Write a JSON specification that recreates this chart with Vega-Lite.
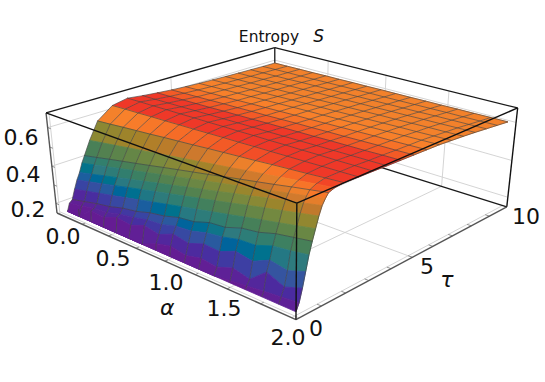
{"$schema":"https://vega.github.io/schema/vega-lite/v6.json","width":545,"height":382,"autosize":{"type":"fit","contains":"padding"},"padding":0,"background":"white","view":{"stroke":null},
"datasets":{
"frame":[
{"alpha":0,"tau":0,"S":0.2,"alpha2":0,"tau2":10,"S2":0.2,"kind":"grid"},{"alpha":0,"tau":0,"S":0.4,"alpha2":0,"tau2":10,"S2":0.4,"kind":"grid"},{"alpha":0,"tau":0,"S":0.6,"alpha2":0,"tau2":10,"S2":0.6,"kind":"grid"},
{"alpha":0,"tau":10,"S":0.2,"alpha2":2,"tau2":10,"S2":0.2,"kind":"grid"},{"alpha":0,"tau":10,"S":0.4,"alpha2":2,"tau2":10,"S2":0.4,"kind":"grid"},{"alpha":0,"tau":10,"S":0.6,"alpha2":2,"tau2":10,"S2":0.6,"kind":"grid"},
{"alpha":0,"tau":5,"S":0.147,"alpha2":0,"tau2":5,"S2":0.674,"kind":"grid"},{"alpha":0,"tau":5,"S":0.147,"alpha2":2,"tau2":5,"S2":0.147,"kind":"grid"},
{"alpha":0.5,"tau":10,"S":0.147,"alpha2":0.5,"tau2":10,"S2":0.674,"kind":"grid"},{"alpha":1,"tau":10,"S":0.147,"alpha2":1,"tau2":10,"S2":0.674,"kind":"grid"},{"alpha":1.5,"tau":10,"S":0.147,"alpha2":1.5,"tau2":10,"S2":0.674,"kind":"grid"},
{"alpha":0.5,"tau":0,"S":0.147,"alpha2":0.5,"tau2":10,"S2":0.147,"kind":"grid"},{"alpha":1,"tau":0,"S":0.147,"alpha2":1,"tau2":10,"S2":0.147,"kind":"grid"},{"alpha":1.5,"tau":0,"S":0.147,"alpha2":1.5,"tau2":10,"S2":0.147,"kind":"grid"},
{"alpha":0,"tau":0.12,"S":0.147,"alpha2":2,"tau2":0.12,"S2":0.147,"kind":"grid"},{"alpha":1.97,"tau":0,"S":0.147,"alpha2":1.97,"tau2":10,"S2":0.147,"kind":"grid"},{"alpha":0.03,"tau":0,"S":0.147,"alpha2":0.03,"tau2":0,"S2":0.674,"kind":"grid"},
{"alpha":0,"tau":0,"S":0.674,"alpha2":0,"tau2":10,"S2":0.674,"kind":"back"},{"alpha":0,"tau":10,"S":0.674,"alpha2":2,"tau2":10,"S2":0.674,"kind":"back"},{"alpha":0,"tau":10,"S":0.147,"alpha2":0,"tau2":10,"S2":0.674,"kind":"back"},{"alpha":0,"tau":10,"S":0.147,"alpha2":2,"tau2":10,"S2":0.147,"kind":"back"},
{"alpha":0,"tau":0,"S":0.674,"alpha2":2,"tau2":0,"S2":0.674,"kind":"front"},{"alpha":2,"tau":0,"S":0.674,"alpha2":2,"tau2":10,"S2":0.674,"kind":"front"},{"alpha":2,"tau":0,"S":0.147,"alpha2":2,"tau2":0,"S2":0.674,"kind":"front"},{"alpha":2,"tau":10,"S":0.147,"alpha2":2,"tau2":10,"S2":0.674,"kind":"front"},
{"alpha":0,"tau":0,"S":0.147,"alpha2":2,"tau2":0,"S2":0.147,"kind":"axis"},{"alpha":2,"tau":0,"S":0.147,"alpha2":2,"tau2":10,"S2":0.147,"kind":"axis"},{"alpha":0,"tau":0,"S":0.147,"alpha2":0,"tau2":0,"S2":0.674,"kind":"axis"},
{"alpha":0.25,"tau":0,"S":0.147,"alpha2":0.25,"tau2":0.12,"S2":0.147,"kind":"tick"},{"alpha":0.5,"tau":0,"S":0.147,"alpha2":0.5,"tau2":0.12,"S2":0.147,"kind":"tick"},{"alpha":0.75,"tau":0,"S":0.147,"alpha2":0.75,"tau2":0.12,"S2":0.147,"kind":"tick"},{"alpha":1,"tau":0,"S":0.147,"alpha2":1,"tau2":0.12,"S2":0.147,"kind":"tick"},{"alpha":1.25,"tau":0,"S":0.147,"alpha2":1.25,"tau2":0.12,"S2":0.147,"kind":"tick"},{"alpha":1.5,"tau":0,"S":0.147,"alpha2":1.5,"tau2":0.12,"S2":0.147,"kind":"tick"},{"alpha":1.75,"tau":0,"S":0.147,"alpha2":1.75,"tau2":0.12,"S2":0.147,"kind":"tick"},
{"alpha":2,"tau":1,"S":0.147,"alpha2":1.97,"tau2":1,"S2":0.147,"kind":"tick"},{"alpha":2,"tau":2,"S":0.147,"alpha2":1.97,"tau2":2,"S2":0.147,"kind":"tick"},{"alpha":2,"tau":3,"S":0.147,"alpha2":1.97,"tau2":3,"S2":0.147,"kind":"tick"},{"alpha":2,"tau":4,"S":0.147,"alpha2":1.97,"tau2":4,"S2":0.147,"kind":"tick"},{"alpha":2,"tau":5,"S":0.147,"alpha2":1.97,"tau2":5,"S2":0.147,"kind":"tick"},{"alpha":2,"tau":6,"S":0.147,"alpha2":1.97,"tau2":6,"S2":0.147,"kind":"tick"},{"alpha":2,"tau":7,"S":0.147,"alpha2":1.97,"tau2":7,"S2":0.147,"kind":"tick"},{"alpha":2,"tau":8,"S":0.147,"alpha2":1.97,"tau2":8,"S2":0.147,"kind":"tick"},{"alpha":2,"tau":9,"S":0.147,"alpha2":1.97,"tau2":9,"S2":0.147,"kind":"tick"},
{"alpha":0,"tau":0,"S":0.2,"alpha2":0.03,"tau2":0,"S2":0.2,"kind":"tick"},{"alpha":0,"tau":0,"S":0.3,"alpha2":0.03,"tau2":0,"S2":0.3,"kind":"tick"},{"alpha":0,"tau":0,"S":0.4,"alpha2":0.03,"tau2":0,"S2":0.4,"kind":"tick"},{"alpha":0,"tau":0,"S":0.5,"alpha2":0.03,"tau2":0,"S2":0.5,"kind":"tick"},{"alpha":0,"tau":0,"S":0.6,"alpha2":0.03,"tau2":0,"S2":0.6,"kind":"tick"}
],
"labels":[
{"label":"0.6","alpha":-0.296,"tau":0,"S":0.488,"role":"tick"},{"label":"0.4","alpha":-0.324,"tau":0,"S":0.282,"role":"tick"},{"label":"0.2","alpha":-0.317,"tau":0,"S":0.087,"role":"tick"},
{"label":"0.0","alpha":0,"tau":0.127,"S":0.006,"role":"tick"},{"label":"0.5","alpha":0.5,"tau":0.097,"S":0.016,"role":"tick"},{"label":"1.0","alpha":1,"tau":-0.007,"S":0.033,"role":"tick"},{"label":"1.5","alpha":1.5,"tau":-0.136,"S":0.055,"role":"tick"},{"label":"2.0","alpha":2,"tau":-0.304,"S":0.08,"role":"tick"},
{"label":"0","alpha":2,"tau":0.8,"S":0.047,"role":"tick"},{"label":"5","alpha":2,"tau":5.78,"S":0.05,"role":"tick"},{"label":"10","alpha":2,"tau":11.31,"S":0.021,"role":"tick"},
{"label":"α","alpha":1,"tau":-0.017,"S":-0.098,"role":"name"},{"label":"τ","alpha":2,"tau":6.9,"S":-0.089,"role":"name"},
{"label":"Entropy","alpha":0,"tau":9.7,"S":0.745,"role":"title"},{"label":"S","alpha":0,"tau":12.4,"S":0.66,"role":"titleS"}
],
"surface":[
{"alpha":0,"tau":10,"S":0.583},{"alpha":0.125,"tau":10,"S":0.585},{"alpha":0.25,"tau":10,"S":0.588},{"alpha":0.375,"tau":10,"S":0.59},{"alpha":0.5,"tau":10,"S":0.593},{"alpha":0.625,"tau":10,"S":0.595},{"alpha":0.75,"tau":10,"S":0.598},{"alpha":0.875,"tau":10,"S":0.6},{"alpha":1,"tau":10,"S":0.603},{"alpha":1.125,"tau":10,"S":0.605},{"alpha":1.25,"tau":10,"S":0.607},{"alpha":1.375,"tau":10,"S":0.61},{"alpha":1.5,"tau":10,"S":0.612},{"alpha":1.625,"tau":10,"S":0.615},{"alpha":1.75,"tau":10,"S":0.617},{"alpha":1.875,"tau":10,"S":0.62},{"alpha":2,"tau":10,"S":0.622},
{"alpha":0,"tau":9.375,"S":0.584},{"alpha":0.125,"tau":9.375,"S":0.587},{"alpha":0.25,"tau":9.375,"S":0.59},{"alpha":0.375,"tau":9.375,"S":0.592},{"alpha":0.5,"tau":9.375,"S":0.595},{"alpha":0.625,"tau":9.375,"S":0.598},{"alpha":0.75,"tau":9.375,"S":0.601},{"alpha":0.875,"tau":9.375,"S":0.604},{"alpha":1,"tau":9.375,"S":0.607},{"alpha":1.125,"tau":9.375,"S":0.609},{"alpha":1.25,"tau":9.375,"S":0.612},{"alpha":1.375,"tau":9.375,"S":0.615},{"alpha":1.5,"tau":9.375,"S":0.618},{"alpha":1.625,"tau":9.375,"S":0.621},{"alpha":1.75,"tau":9.375,"S":0.623},{"alpha":1.875,"tau":9.375,"S":0.626},{"alpha":2,"tau":9.375,"S":0.629},
{"alpha":0,"tau":8.75,"S":0.586},{"alpha":0.125,"tau":8.75,"S":0.589},{"alpha":0.25,"tau":8.75,"S":0.592},{"alpha":0.375,"tau":8.75,"S":0.595},{"alpha":0.5,"tau":8.75,"S":0.599},{"alpha":0.625,"tau":8.75,"S":0.602},{"alpha":0.75,"tau":8.75,"S":0.605},{"alpha":0.875,"tau":8.75,"S":0.608},{"alpha":1,"tau":8.75,"S":0.611},{"alpha":1.125,"tau":8.75,"S":0.614},{"alpha":1.25,"tau":8.75,"S":0.617},{"alpha":1.375,"tau":8.75,"S":0.62},{"alpha":1.5,"tau":8.75,"S":0.623},{"alpha":1.625,"tau":8.75,"S":0.627},{"alpha":1.75,"tau":8.75,"S":0.63},{"alpha":1.875,"tau":8.75,"S":0.633},{"alpha":2,"tau":8.75,"S":0.636},
{"alpha":0,"tau":8.125,"S":0.588},{"alpha":0.125,"tau":8.125,"S":0.591},{"alpha":0.25,"tau":8.125,"S":0.595},{"alpha":0.375,"tau":8.125,"S":0.598},{"alpha":0.5,"tau":8.125,"S":0.602},{"alpha":0.625,"tau":8.125,"S":0.605},{"alpha":0.75,"tau":8.125,"S":0.609},{"alpha":0.875,"tau":8.125,"S":0.612},{"alpha":1,"tau":8.125,"S":0.616},{"alpha":1.125,"tau":8.125,"S":0.619},{"alpha":1.25,"tau":8.125,"S":0.622},{"alpha":1.375,"tau":8.125,"S":0.626},{"alpha":1.5,"tau":8.125,"S":0.629},{"alpha":1.625,"tau":8.125,"S":0.633},{"alpha":1.75,"tau":8.125,"S":0.636},{"alpha":1.875,"tau":8.125,"S":0.64},{"alpha":2,"tau":8.125,"S":0.643},
{"alpha":0,"tau":7.5,"S":0.59},{"alpha":0.125,"tau":7.5,"S":0.594},{"alpha":0.25,"tau":7.5,"S":0.597},{"alpha":0.375,"tau":7.5,"S":0.601},{"alpha":0.5,"tau":7.5,"S":0.605},{"alpha":0.625,"tau":7.5,"S":0.608},{"alpha":0.75,"tau":7.5,"S":0.612},{"alpha":0.875,"tau":7.5,"S":0.616},{"alpha":1,"tau":7.5,"S":0.62},{"alpha":1.125,"tau":7.5,"S":0.623},{"alpha":1.25,"tau":7.5,"S":0.627},{"alpha":1.375,"tau":7.5,"S":0.631},{"alpha":1.5,"tau":7.5,"S":0.634},{"alpha":1.625,"tau":7.5,"S":0.638},{"alpha":1.75,"tau":7.5,"S":0.642},{"alpha":1.875,"tau":7.5,"S":0.645},{"alpha":2,"tau":7.5,"S":0.649},
{"alpha":0,"tau":6.875,"S":0.593},{"alpha":0.125,"tau":6.875,"S":0.597},{"alpha":0.25,"tau":6.875,"S":0.601},{"alpha":0.375,"tau":6.875,"S":0.604},{"alpha":0.5,"tau":6.875,"S":0.608},{"alpha":0.625,"tau":6.875,"S":0.612},{"alpha":0.75,"tau":6.875,"S":0.616},{"alpha":0.875,"tau":6.875,"S":0.62},{"alpha":1,"tau":6.875,"S":0.624},{"alpha":1.125,"tau":6.875,"S":0.627},{"alpha":1.25,"tau":6.875,"S":0.631},{"alpha":1.375,"tau":6.875,"S":0.635},{"alpha":1.5,"tau":6.875,"S":0.639},{"alpha":1.625,"tau":6.875,"S":0.643},{"alpha":1.75,"tau":6.875,"S":0.646},{"alpha":1.875,"tau":6.875,"S":0.65},{"alpha":2,"tau":6.875,"S":0.654},
{"alpha":0,"tau":6.25,"S":0.596},{"alpha":0.125,"tau":6.25,"S":0.6},{"alpha":0.25,"tau":6.25,"S":0.604},{"alpha":0.375,"tau":6.25,"S":0.608},{"alpha":0.5,"tau":6.25,"S":0.612},{"alpha":0.625,"tau":6.25,"S":0.616},{"alpha":0.75,"tau":6.25,"S":0.62},{"alpha":0.875,"tau":6.25,"S":0.624},{"alpha":1,"tau":6.25,"S":0.628},{"alpha":1.125,"tau":6.25,"S":0.631},{"alpha":1.25,"tau":6.25,"S":0.635},{"alpha":1.375,"tau":6.25,"S":0.639},{"alpha":1.5,"tau":6.25,"S":0.643},{"alpha":1.625,"tau":6.25,"S":0.647},{"alpha":1.75,"tau":6.25,"S":0.651},{"alpha":1.875,"tau":6.25,"S":0.655},{"alpha":2,"tau":6.25,"S":0.659},
{"alpha":0,"tau":5.625,"S":0.6},{"alpha":0.125,"tau":5.625,"S":0.604},{"alpha":0.25,"tau":5.625,"S":0.608},{"alpha":0.375,"tau":5.625,"S":0.611},{"alpha":0.5,"tau":5.625,"S":0.615},{"alpha":0.625,"tau":5.625,"S":0.619},{"alpha":0.75,"tau":5.625,"S":0.623},{"alpha":0.875,"tau":5.625,"S":0.627},{"alpha":1,"tau":5.625,"S":0.631},{"alpha":1.125,"tau":5.625,"S":0.634},{"alpha":1.25,"tau":5.625,"S":0.638},{"alpha":1.375,"tau":5.625,"S":0.642},{"alpha":1.5,"tau":5.625,"S":0.646},{"alpha":1.625,"tau":5.625,"S":0.65},{"alpha":1.75,"tau":5.625,"S":0.653},{"alpha":1.875,"tau":5.625,"S":0.657},{"alpha":2,"tau":5.625,"S":0.661},
{"alpha":0,"tau":5,"S":0.605},{"alpha":0.125,"tau":5,"S":0.609},{"alpha":0.25,"tau":5,"S":0.612},{"alpha":0.375,"tau":5,"S":0.616},{"alpha":0.5,"tau":5,"S":0.62},{"alpha":0.625,"tau":5,"S":0.623},{"alpha":0.75,"tau":5,"S":0.627},{"alpha":0.875,"tau":5,"S":0.63},{"alpha":1,"tau":5,"S":0.634},{"alpha":1.125,"tau":5,"S":0.638},{"alpha":1.25,"tau":5,"S":0.641},{"alpha":1.375,"tau":5,"S":0.645},{"alpha":1.5,"tau":5,"S":0.648},{"alpha":1.625,"tau":5,"S":0.652},{"alpha":1.75,"tau":5,"S":0.656},{"alpha":1.875,"tau":5,"S":0.659},{"alpha":2,"tau":5,"S":0.663},
{"alpha":0,"tau":4.375,"S":0.612},{"alpha":0.125,"tau":4.375,"S":0.615},{"alpha":0.25,"tau":4.375,"S":0.619},{"alpha":0.375,"tau":4.375,"S":0.622},{"alpha":0.5,"tau":4.375,"S":0.625},{"alpha":0.625,"tau":4.375,"S":0.629},{"alpha":0.75,"tau":4.375,"S":0.632},{"alpha":0.875,"tau":4.375,"S":0.635},{"alpha":1,"tau":4.375,"S":0.639},{"alpha":1.125,"tau":4.375,"S":0.642},{"alpha":1.25,"tau":4.375,"S":0.645},{"alpha":1.375,"tau":4.375,"S":0.648},{"alpha":1.5,"tau":4.375,"S":0.652},{"alpha":1.625,"tau":4.375,"S":0.655},{"alpha":1.75,"tau":4.375,"S":0.658},{"alpha":1.875,"tau":4.375,"S":0.662},{"alpha":2,"tau":4.375,"S":0.665},
{"alpha":0,"tau":3.75,"S":0.62},{"alpha":0.125,"tau":3.75,"S":0.623},{"alpha":0.25,"tau":3.75,"S":0.626},{"alpha":0.375,"tau":3.75,"S":0.629},{"alpha":0.5,"tau":3.75,"S":0.632},{"alpha":0.625,"tau":3.75,"S":0.635},{"alpha":0.75,"tau":3.75,"S":0.638},{"alpha":0.875,"tau":3.75,"S":0.641},{"alpha":1,"tau":3.75,"S":0.644},{"alpha":1.125,"tau":3.75,"S":0.646},{"alpha":1.25,"tau":3.75,"S":0.649},{"alpha":1.375,"tau":3.75,"S":0.652},{"alpha":1.5,"tau":3.75,"S":0.655},{"alpha":1.625,"tau":3.75,"S":0.658},{"alpha":1.75,"tau":3.75,"S":0.661},{"alpha":1.875,"tau":3.75,"S":0.664},{"alpha":2,"tau":3.75,"S":0.667},
{"alpha":0,"tau":3.125,"S":0.63},{"alpha":0.125,"tau":3.125,"S":0.633},{"alpha":0.25,"tau":3.125,"S":0.635},{"alpha":0.375,"tau":3.125,"S":0.638},{"alpha":0.5,"tau":3.125,"S":0.64},{"alpha":0.625,"tau":3.125,"S":0.643},{"alpha":0.75,"tau":3.125,"S":0.645},{"alpha":0.875,"tau":3.125,"S":0.648},{"alpha":1,"tau":3.125,"S":0.65},{"alpha":1.125,"tau":3.125,"S":0.653},{"alpha":1.25,"tau":3.125,"S":0.655},{"alpha":1.375,"tau":3.125,"S":0.658},{"alpha":1.5,"tau":3.125,"S":0.66},{"alpha":1.625,"tau":3.125,"S":0.663},{"alpha":1.75,"tau":3.125,"S":0.665},{"alpha":1.875,"tau":3.125,"S":0.668},{"alpha":2,"tau":3.125,"S":0.67},
{"alpha":0,"tau":2.5,"S":0.615},{"alpha":0.125,"tau":2.5,"S":0.619},{"alpha":0.25,"tau":2.5,"S":0.622},{"alpha":0.375,"tau":2.5,"S":0.626},{"alpha":0.5,"tau":2.5,"S":0.629},{"alpha":0.625,"tau":2.5,"S":0.633},{"alpha":0.75,"tau":2.5,"S":0.636},{"alpha":0.875,"tau":2.5,"S":0.64},{"alpha":1,"tau":2.5,"S":0.644},{"alpha":1.125,"tau":2.5,"S":0.647},{"alpha":1.25,"tau":2.5,"S":0.651},{"alpha":1.375,"tau":2.5,"S":0.654},{"alpha":1.5,"tau":2.5,"S":0.658},{"alpha":1.625,"tau":2.5,"S":0.661},{"alpha":1.75,"tau":2.5,"S":0.665},{"alpha":1.875,"tau":2.5,"S":0.668},{"alpha":2,"tau":2.5,"S":0.672},
{"alpha":0,"tau":1.875,"S":0.558},{"alpha":0.125,"tau":1.875,"S":0.565},{"alpha":0.25,"tau":1.875,"S":0.573},{"alpha":0.375,"tau":1.875,"S":0.58},{"alpha":0.5,"tau":1.875,"S":0.587},{"alpha":0.625,"tau":1.875,"S":0.595},{"alpha":0.75,"tau":1.875,"S":0.602},{"alpha":0.875,"tau":1.875,"S":0.609},{"alpha":1,"tau":1.875,"S":0.617},{"alpha":1.125,"tau":1.875,"S":0.624},{"alpha":1.25,"tau":1.875,"S":0.631},{"alpha":1.375,"tau":1.875,"S":0.638},{"alpha":1.5,"tau":1.875,"S":0.646},{"alpha":1.625,"tau":1.875,"S":0.653},{"alpha":1.75,"tau":1.875,"S":0.66},{"alpha":1.875,"tau":1.875,"S":0.668},{"alpha":2,"tau":1.875,"S":0.675},
{"alpha":0,"tau":1.5,"S":0.47},{"alpha":0.125,"tau":1.5,"S":0.483},{"alpha":0.25,"tau":1.5,"S":0.495},{"alpha":0.375,"tau":1.5,"S":0.508},{"alpha":0.5,"tau":1.5,"S":0.52},{"alpha":0.625,"tau":1.5,"S":0.533},{"alpha":0.75,"tau":1.5,"S":0.545},{"alpha":0.875,"tau":1.5,"S":0.558},{"alpha":1,"tau":1.5,"S":0.57},{"alpha":1.125,"tau":1.5,"S":0.583},{"alpha":1.25,"tau":1.5,"S":0.595},{"alpha":1.375,"tau":1.5,"S":0.608},{"alpha":1.5,"tau":1.5,"S":0.62},{"alpha":1.625,"tau":1.5,"S":0.633},{"alpha":1.75,"tau":1.5,"S":0.645},{"alpha":1.875,"tau":1.5,"S":0.658},{"alpha":2,"tau":1.5,"S":0.67},
{"alpha":0,"tau":1.25,"S":0.4},{"alpha":0.125,"tau":1.25,"S":0.416},{"alpha":0.25,"tau":1.25,"S":0.433},{"alpha":0.375,"tau":1.25,"S":0.449},{"alpha":0.5,"tau":1.25,"S":0.465},{"alpha":0.625,"tau":1.25,"S":0.481},{"alpha":0.75,"tau":1.25,"S":0.498},{"alpha":0.875,"tau":1.25,"S":0.514},{"alpha":1,"tau":1.25,"S":0.53},{"alpha":1.125,"tau":1.25,"S":0.546},{"alpha":1.25,"tau":1.25,"S":0.563},{"alpha":1.375,"tau":1.25,"S":0.579},{"alpha":1.5,"tau":1.25,"S":0.595},{"alpha":1.625,"tau":1.25,"S":0.611},{"alpha":1.75,"tau":1.25,"S":0.628},{"alpha":1.875,"tau":1.25,"S":0.644},{"alpha":2,"tau":1.25,"S":0.66},
{"alpha":0,"tau":1.125,"S":0.365},{"alpha":0.125,"tau":1.125,"S":0.382},{"alpha":0.25,"tau":1.125,"S":0.399},{"alpha":0.375,"tau":1.125,"S":0.417},{"alpha":0.5,"tau":1.125,"S":0.434},{"alpha":0.625,"tau":1.125,"S":0.451},{"alpha":0.75,"tau":1.125,"S":0.468},{"alpha":0.875,"tau":1.125,"S":0.485},{"alpha":1,"tau":1.125,"S":0.503},{"alpha":1.125,"tau":1.125,"S":0.52},{"alpha":1.25,"tau":1.125,"S":0.537},{"alpha":1.375,"tau":1.125,"S":0.554},{"alpha":1.5,"tau":1.125,"S":0.571},{"alpha":1.625,"tau":1.125,"S":0.589},{"alpha":1.75,"tau":1.125,"S":0.606},{"alpha":1.875,"tau":1.125,"S":0.623},{"alpha":2,"tau":1.125,"S":0.64},
{"alpha":0,"tau":1,"S":0.32},{"alpha":0.125,"tau":1,"S":0.338},{"alpha":0.25,"tau":1,"S":0.357},{"alpha":0.375,"tau":1,"S":0.375},{"alpha":0.5,"tau":1,"S":0.394},{"alpha":0.625,"tau":1,"S":0.412},{"alpha":0.75,"tau":1,"S":0.431},{"alpha":0.875,"tau":1,"S":0.449},{"alpha":1,"tau":1,"S":0.468},{"alpha":1.125,"tau":1,"S":0.486},{"alpha":1.25,"tau":1,"S":0.504},{"alpha":1.375,"tau":1,"S":0.523},{"alpha":1.5,"tau":1,"S":0.541},{"alpha":1.625,"tau":1,"S":0.56},{"alpha":1.75,"tau":1,"S":0.578},{"alpha":1.875,"tau":1,"S":0.597},{"alpha":2,"tau":1,"S":0.615},
{"alpha":0,"tau":0.875,"S":0.285},{"alpha":0.125,"tau":0.875,"S":0.303},{"alpha":0.25,"tau":0.875,"S":0.321},{"alpha":0.375,"tau":0.875,"S":0.339},{"alpha":0.5,"tau":0.875,"S":0.358},{"alpha":0.625,"tau":0.875,"S":0.376},{"alpha":0.75,"tau":0.875,"S":0.394},{"alpha":0.875,"tau":0.875,"S":0.412},{"alpha":1,"tau":0.875,"S":0.43},{"alpha":1.125,"tau":0.875,"S":0.448},{"alpha":1.25,"tau":0.875,"S":0.466},{"alpha":1.375,"tau":0.875,"S":0.484},{"alpha":1.5,"tau":0.875,"S":0.503},{"alpha":1.625,"tau":0.875,"S":0.521},{"alpha":1.75,"tau":0.875,"S":0.539},{"alpha":1.875,"tau":0.875,"S":0.557},{"alpha":2,"tau":0.875,"S":0.575},
{"alpha":0,"tau":0.75,"S":0.24},{"alpha":0.125,"tau":0.75,"S":0.258},{"alpha":0.25,"tau":0.75,"S":0.276},{"alpha":0.375,"tau":0.75,"S":0.293},{"alpha":0.5,"tau":0.75,"S":0.311},{"alpha":0.625,"tau":0.75,"S":0.329},{"alpha":0.75,"tau":0.75,"S":0.347},{"alpha":0.875,"tau":0.75,"S":0.365},{"alpha":1,"tau":0.75,"S":0.383},{"alpha":1.125,"tau":0.75,"S":0.4},{"alpha":1.25,"tau":0.75,"S":0.418},{"alpha":1.375,"tau":0.75,"S":0.436},{"alpha":1.5,"tau":0.75,"S":0.454},{"alpha":1.625,"tau":0.75,"S":0.472},{"alpha":1.75,"tau":0.75,"S":0.489},{"alpha":1.875,"tau":0.75,"S":0.507},{"alpha":2,"tau":0.75,"S":0.525},
{"alpha":0,"tau":0.625,"S":0.19},{"alpha":0.125,"tau":0.625,"S":0.208},{"alpha":0.25,"tau":0.625,"S":0.226},{"alpha":0.375,"tau":0.625,"S":0.24},{"alpha":0.5,"tau":0.625,"S":0.262},{"alpha":0.625,"tau":0.625,"S":0.275},{"alpha":0.75,"tau":0.625,"S":0.298},{"alpha":0.875,"tau":0.625,"S":0.312},{"alpha":1,"tau":0.625,"S":0.335},{"alpha":1.125,"tau":0.625,"S":0.345},{"alpha":1.25,"tau":0.625,"S":0.372},{"alpha":1.375,"tau":0.625,"S":0.38},{"alpha":1.5,"tau":0.625,"S":0.408},{"alpha":1.625,"tau":0.625,"S":0.42},{"alpha":1.75,"tau":0.625,"S":0.445},{"alpha":1.875,"tau":0.625,"S":0.46},{"alpha":2,"tau":0.625,"S":0.475},
{"alpha":0,"tau":0.5,"S":0.175},{"alpha":0.125,"tau":0.5,"S":0.19},{"alpha":0.25,"tau":0.5,"S":0.206},{"alpha":0.375,"tau":0.5,"S":0.215},{"alpha":0.5,"tau":0.5,"S":0.236},{"alpha":0.625,"tau":0.5,"S":0.25},{"alpha":0.75,"tau":0.5,"S":0.268},{"alpha":0.875,"tau":0.5,"S":0.275},{"alpha":1,"tau":0.5,"S":0.298},{"alpha":1.125,"tau":0.5,"S":0.305},{"alpha":1.25,"tau":0.5,"S":0.328},{"alpha":1.375,"tau":0.5,"S":0.34},{"alpha":1.5,"tau":0.5,"S":0.36},{"alpha":1.625,"tau":0.5,"S":0.365},{"alpha":1.75,"tau":0.5,"S":0.395},{"alpha":1.875,"tau":0.5,"S":0.405},{"alpha":2,"tau":0.5,"S":0.42},
{"alpha":0,"tau":0.4,"S":0.136},{"alpha":0.125,"tau":0.375,"S":0.18},{"alpha":0.25,"tau":0.375,"S":0.2},{"alpha":0.375,"tau":0.375,"S":0.195},{"alpha":0.5,"tau":0.375,"S":0.225},{"alpha":0.625,"tau":0.375,"S":0.215},{"alpha":0.75,"tau":0.375,"S":0.245},{"alpha":0.875,"tau":0.375,"S":0.23},{"alpha":1,"tau":0.375,"S":0.265},{"alpha":1.125,"tau":0.375,"S":0.25},{"alpha":1.25,"tau":0.375,"S":0.28},{"alpha":1.375,"tau":0.375,"S":0.275},{"alpha":1.5,"tau":0.375,"S":0.31},{"alpha":1.625,"tau":0.375,"S":0.295},{"alpha":1.75,"tau":0.375,"S":0.335},{"alpha":1.875,"tau":0.375,"S":0.32},{"alpha":2,"tau":0.375,"S":0.35},
{"alpha":0,"tau":0.4,"S":0.136},{"alpha":0.125,"tau":0.375,"S":0.139},{"alpha":0.25,"tau":0.35,"S":0.142},{"alpha":0.375,"tau":0.325,"S":0.145},{"alpha":0.5,"tau":0.3,"S":0.148},{"alpha":0.625,"tau":0.275,"S":0.151},{"alpha":0.75,"tau":0.25,"S":0.154},{"alpha":0.875,"tau":0.25,"S":0.19},{"alpha":1,"tau":0.25,"S":0.21},{"alpha":1.125,"tau":0.25,"S":0.195},{"alpha":1.25,"tau":0.25,"S":0.215},{"alpha":1.375,"tau":0.25,"S":0.205},{"alpha":1.5,"tau":0.25,"S":0.235},{"alpha":1.625,"tau":0.25,"S":0.215},{"alpha":1.75,"tau":0.25,"S":0.285},{"alpha":1.875,"tau":0.25,"S":0.25},{"alpha":2,"tau":0.25,"S":0.28},
{"alpha":0,"tau":0.4,"S":0.136},{"alpha":0.125,"tau":0.375,"S":0.139},{"alpha":0.25,"tau":0.35,"S":0.142},{"alpha":0.375,"tau":0.325,"S":0.145},{"alpha":0.5,"tau":0.3,"S":0.148},{"alpha":0.625,"tau":0.275,"S":0.151},{"alpha":0.75,"tau":0.25,"S":0.154},{"alpha":0.875,"tau":0.225,"S":0.157},{"alpha":1,"tau":0.2,"S":0.16},{"alpha":1.125,"tau":0.175,"S":0.163},{"alpha":1.25,"tau":0.15,"S":0.166},{"alpha":1.375,"tau":0.125,"S":0.169},{"alpha":1.5,"tau":0.125,"S":0.18},{"alpha":1.625,"tau":0.125,"S":0.19},{"alpha":1.75,"tau":0.125,"S":0.2},{"alpha":1.875,"tau":0.125,"S":0.21},{"alpha":2,"tau":0.125,"S":0.22},
{"alpha":0,"tau":0.4,"S":0.136},{"alpha":0.125,"tau":0.375,"S":0.139},{"alpha":0.25,"tau":0.35,"S":0.142},{"alpha":0.375,"tau":0.325,"S":0.145},{"alpha":0.5,"tau":0.3,"S":0.148},{"alpha":0.625,"tau":0.275,"S":0.151},{"alpha":0.75,"tau":0.25,"S":0.154},{"alpha":0.875,"tau":0.225,"S":0.157},{"alpha":1,"tau":0.2,"S":0.16},{"alpha":1.125,"tau":0.175,"S":0.163},{"alpha":1.25,"tau":0.15,"S":0.166},{"alpha":1.375,"tau":0.125,"S":0.169},{"alpha":1.5,"tau":0.1,"S":0.172},{"alpha":1.625,"tau":0.075,"S":0.175},{"alpha":1.75,"tau":0.05,"S":0.178},{"alpha":1.875,"tau":0.025,"S":0.181},{"alpha":2,"tau":0,"S":0.184}
]},
"encoding":{"x":{"field":"px","type":"quantitative","scale":{"domain":[0,545],"nice":false,"zero":false},"axis":null},"y":{"field":"py","type":"quantitative","scale":{"domain":[382,0],"nice":false,"zero":false},"axis":null}},
"layer":[
{"data":{"name":"frame"},"transform":[
{"calculate":"datum.alpha/2","as":"a"},{"calculate":"datum.tau/10","as":"t"},{"calculate":"(datum.S-0.147)/0.527","as":"z"},{"calculate":"1-0.1769*datum.a+0.1919*datum.t-0.04658*datum.z","as":"w"},{"calculate":"(57+186.6*datum.a+270.8*datum.t-13.1*datum.z)/datum.w","as":"px"},{"calculate":"(213+50.06*datum.a-53.2*datum.t-105.3*datum.z)/datum.w","as":"py"},
{"calculate":"datum.alpha2/2","as":"a2"},{"calculate":"datum.tau2/10","as":"t2"},{"calculate":"(datum.S2-0.147)/0.527","as":"z2"},{"calculate":"1-0.1769*datum.a2+0.1919*datum.t2-0.04658*datum.z2","as":"w2"},{"calculate":"(57+186.6*datum.a2+270.8*datum.t2-13.1*datum.z2)/datum.w2","as":"px2"},{"calculate":"(213+50.06*datum.a2-53.2*datum.t2-105.3*datum.z2)/datum.w2","as":"py2"}],
"encoding":{"x2":{"field":"px2"},"y2":{"field":"py2"}},
"layer":[
{"transform":[{"filter":"datum.kind=='grid'"}],"mark":{"type":"rule","stroke":"#cfcfcf","strokeWidth":0.9}},
{"transform":[{"filter":"datum.kind=='back'"}],"mark":{"type":"rule","stroke":"#1a1a1a","strokeWidth":1.3}}
]},
{"data":{"name":"surface"},"transform":[
{"calculate":"datum.alpha/2","as":"a"},{"calculate":"datum.tau/10*(1-0.024*datum.alpha)","as":"t"},{"calculate":"(datum.S-0.147)/0.527","as":"z"},{"calculate":"1-0.1769*datum.a+0.1919*datum.t-0.04658*datum.z","as":"w"},{"calculate":"(57+186.6*datum.a+270.8*datum.t-13.1*datum.z)/datum.w","as":"px"},{"calculate":"(213+50.06*datum.a-53.2*datum.t-105.3*datum.z)/datum.w","as":"py"},
{"calculate":"round(datum.alpha*8)","as":"i"},
{"window":[{"op":"row_number","as":"rn"}],"groupby":["i"],"sort":[{"field":"tau","order":"ascending"}]},
{"calculate":"datum.rn-1","as":"j"}],
"layer":[
{"transform":[
{"calculate":"[0,1,2,3]","as":"corners"},{"flatten":["corners"],"as":["k"]},
{"calculate":"datum.i-((datum.k==1||datum.k==2)?1:0)","as":"ci"},{"calculate":"datum.j-(datum.k>=2?1:0)","as":"cj"},
{"filter":"datum.ci>=0&&datum.ci<16&&datum.cj>=0&&datum.cj<25"},
{"calculate":"datum.ci+'_'+datum.cj","as":"cell"},
{"calculate":"clamp((datum.tau-1.5)/1.5,0,1)","as":"p"},
{"calculate":"datum.S*(1-datum.p)+datum.p*(0.63+0.07*exp(-pow((datum.tau-2.8)/2,2)))","as":"c0"},
{"joinaggregate":[{"op":"mean","field":"c0","as":"c"}],"groupby":["cell"]}],
"mark":{"type":"line","strokeWidth":0.8,"interpolate":"linear"},
"encoding":{"detail":{"field":"cell"},"order":{"field":"k","type":"quantitative"},
"fill":{"field":"c","type":"quantitative","legend":null,"scale":{"clamp":true,"domain":[0.18,0.24,0.3,0.37,0.45,0.52,0.59,0.635,0.675],"range":["#651c93","#4a2ba0","#35559f","#2f7a80","#4f8052","#7f8a3c","#c5772e","#f8822b","#ef3828"]}},
"stroke":{"field":"c","type":"quantitative","legend":null,"scale":{"clamp":true,"domain":[0.18,0.24,0.3,0.37,0.45,0.52,0.59,0.635,0.675],"range":["#651c93","#4a2ba0","#35559f","#2f7a80","#4f8052","#7f8a3c","#c5772e","#f8822b","#ef3828"]}}}},
{"transform":[{"filter":"datum.j==5||datum.j==10||datum.j>=12"}],"mark":{"type":"line","stroke":"#444444","strokeWidth":0.85,"opacity":0.75},"encoding":{"detail":{"field":"j"},"order":{"field":"i","type":"quantitative"}}},
{"mark":{"type":"line","stroke":"#444444","strokeWidth":0.85,"opacity":0.75},"encoding":{"detail":{"field":"i"},"order":{"field":"j","type":"quantitative"}}}
]},
{"data":{"name":"frame"},"transform":[
{"calculate":"datum.alpha/2","as":"a"},{"calculate":"datum.tau/10","as":"t"},{"calculate":"(datum.S-0.147)/0.527","as":"z"},{"calculate":"1-0.1769*datum.a+0.1919*datum.t-0.04658*datum.z","as":"w"},{"calculate":"(57+186.6*datum.a+270.8*datum.t-13.1*datum.z)/datum.w","as":"px"},{"calculate":"(213+50.06*datum.a-53.2*datum.t-105.3*datum.z)/datum.w","as":"py"},
{"calculate":"datum.alpha2/2","as":"a2"},{"calculate":"datum.tau2/10","as":"t2"},{"calculate":"(datum.S2-0.147)/0.527","as":"z2"},{"calculate":"1-0.1769*datum.a2+0.1919*datum.t2-0.04658*datum.z2","as":"w2"},{"calculate":"(57+186.6*datum.a2+270.8*datum.t2-13.1*datum.z2)/datum.w2","as":"px2"},{"calculate":"(213+50.06*datum.a2-53.2*datum.t2-105.3*datum.z2)/datum.w2","as":"py2"}],
"encoding":{"x2":{"field":"px2"},"y2":{"field":"py2"}},
"layer":[
{"transform":[{"filter":"datum.kind=='tick'"}],"mark":{"type":"rule","stroke":"#777777","strokeWidth":0.8}},
{"transform":[{"filter":"datum.kind=='axis'"}],"mark":{"type":"rule","stroke":"#555555","strokeWidth":1.4}},
{"transform":[{"filter":"datum.kind=='front'"}],"mark":{"type":"rule","stroke":"#111111","strokeWidth":1.4}}
]},
{"data":{"name":"labels"},"transform":[
{"calculate":"datum.alpha/2","as":"a"},{"calculate":"datum.tau/10","as":"t"},{"calculate":"(datum.S-0.147)/0.527","as":"z"},{"calculate":"1-0.1769*datum.a+0.1919*datum.t-0.04658*datum.z","as":"w"},{"calculate":"(57+186.6*datum.a+270.8*datum.t-13.1*datum.z)/datum.w","as":"px"},{"calculate":"(213+50.06*datum.a-53.2*datum.t-105.3*datum.z)/datum.w","as":"py"}],
"encoding":{"text":{"field":"label"}},
"layer":[
{"transform":[{"filter":"datum.role=='tick'"}],"mark":{"type":"text","font":"DejaVu Sans","fontSize":22,"fill":"#111111","align":"center","baseline":"middle"}},
{"transform":[{"filter":"datum.role=='name'"}],"mark":{"type":"text","font":"DejaVu Sans","fontStyle":"italic","fontSize":22,"fill":"#111111","align":"center","baseline":"middle"}},
{"transform":[{"filter":"datum.role=='title'"}],"mark":{"type":"text","font":"DejaVu Sans","fontSize":15.5,"fill":"#111111","align":"center","baseline":"middle"}},
{"transform":[{"filter":"datum.role=='titleS'"}],"mark":{"type":"text","font":"DejaVu Sans","fontStyle":"italic","fontSize":17,"fill":"#111111","align":"center","baseline":"middle"}}
]}
]}
